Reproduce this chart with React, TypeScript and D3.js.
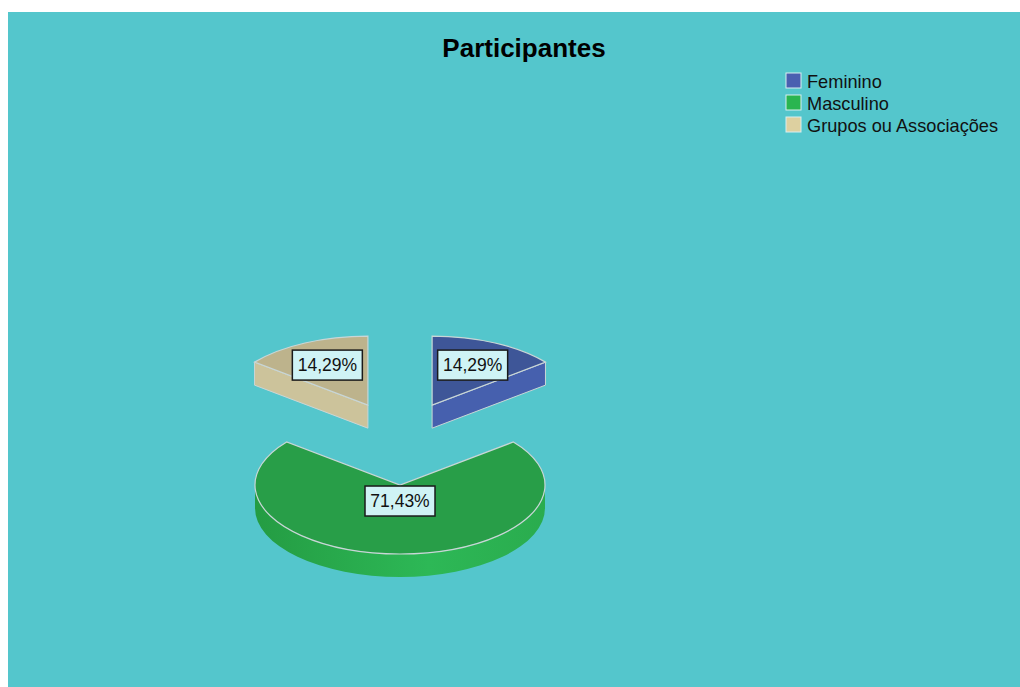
import React from "react";
import * as d3 from "d3";

const categories = ["Feminino", "Masculino", "Grupos ou Associações"];
const values = [1, 5, 1];
const topColors = ["#3e5698", "#289e48", "#bdb38c"];
const sideColors = ["#4660ae", "#2bb050", "#ccc39b"];
const legendColors = ["#4a5fb0", "#2ab550", "#ddd0a0"];

const W = 1020;
const H = 687;
// pie geometry (ellipse for the 3D look)
const cx0 = 400;
const cy0 = 443;
const rx = 145;
const ry = 69;
const depth = 23;
const explodeX = 74;
const explodeY = 42;

const ptLocale = d3.formatLocale({ decimal: ",", thousands: ".", grouping: [3], currency: ["R$", ""] });
const fmtPct = ptLocale.format(".2%");

export default function App() {
  const total = d3.sum(values);
  const arcs = d3.pie<number>().sort(null).value((d) => d)(values);
  const arcGen = d3.arc<any>().innerRadius(0).outerRadius(rx);

  const slices = arcs.map((a, i) => {
    const mid = (a.startAngle + a.endAngle) / 2;
    const cx = cx0 + explodeX * Math.sin(mid);
    const cy = cy0 - explodeY * Math.cos(mid);
    const pt = (ang: number, dy = 0): [number, number] => [cx + rx * Math.sin(ang), cy - ry * Math.cos(ang) + dy];

    // curved outer wall (front half only)
    let wall: string | null = null;
    const s = Math.max(a.startAngle, Math.PI / 2);
    const e = Math.min(a.endAngle, (3 * Math.PI) / 2);
    if (s < e) {
      const dS = (depth * rx) / ry;
      const p = d3.path();
      p.moveTo(rx * Math.sin(s), -rx * Math.cos(s));
      p.arc(0, 0, rx, s - Math.PI / 2, e - Math.PI / 2);
      p.lineTo(rx * Math.sin(e), -rx * Math.cos(e) + dS);
      p.arc(0, dS, rx, e - Math.PI / 2, s - Math.PI / 2, true);
      p.closePath();
      wall = p.toString();
    }

    // radial walls
    const radial: string[] = [];
    const face = (ang: number) => {
      const pts = [[cx, cy], pt(ang), pt(ang, depth), [cx, cy + depth]];
      return "M" + pts.map((q) => q.join(",")).join("L") + "Z";
    };
    if (Math.sin(a.startAngle) < -1e-6) radial.push(face(a.startAngle));
    if (Math.sin(a.endAngle) > 1e-6) radial.push(face(a.endAngle));

    // label sits on the centroid of the top face
    const alpha = (a.endAngle - a.startAngle) / 2;
    const k = (2 * Math.sin(alpha)) / (3 * alpha);
    const lx = cx + k * rx * Math.sin(mid);
    const ly = cy - k * ry * Math.cos(mid);

    return { i, a, cx, cy, wall, radial, lx, ly, label: fmtPct(a.value / total) };
  });

  const order = [...slices].sort((p, q) => p.cy - q.cy);

  return (
    <svg width={W} height={H} style={{ position: "absolute", left: 0, top: 0 }}
      fontFamily="'Liberation Sans', Arial, sans-serif">
      <defs>
        <linearGradient id="greenSide" x1="0" x2="1" y1="0" y2="0">
          <stop offset="0" stopColor="#249c43" />
          <stop offset="0.6" stopColor="#2db856" />
          <stop offset="1" stopColor="#2aac4e" />
        </linearGradient>
      </defs>
      <rect x={8} y={12} width={W - 8} height={H - 12} fill="#54c6cc" />
      <text x={524} y={57} textAnchor="middle" fontSize={26} fontWeight="bold" fill="#000">
        Participantes
      </text>

      {order.map((sl) => (
        <g key={sl.i}>
          {sl.radial.map((d, j) => (
            <path key={j} d={d} fill={sideColors[sl.i]} stroke="#c9d6d6" strokeWidth={1} strokeLinejoin="round" />
          ))}
          {sl.wall && (
            <path d={sl.wall} transform={`translate(${sl.cx},${sl.cy}) scale(1,${ry / rx})`}
              fill={sl.i === 1 ? "url(#greenSide)" : sideColors[sl.i]} stroke="none" />
          )}
          <path d={arcGen(sl.a) as string} transform={`translate(${sl.cx},${sl.cy}) scale(1,${ry / rx})`}
            fill={topColors[sl.i]} stroke="#c9d6d6" strokeWidth={1.2} vectorEffect="non-scaling-stroke" />
        </g>
      ))}

      {slices.map((sl) => (
        <g key={"l" + sl.i} transform={`translate(${sl.lx},${sl.ly})`}>
          <rect x={-35} y={-15} width={70} height={30} fill="#cff3f5" stroke="#1a1a1a" strokeWidth={1.5} />
          <text x={0} y={6} textAnchor="middle" fontSize={17.5} fill="#111">{sl.label}</text>
        </g>
      ))}

      <g transform="translate(786,0)">
        {categories.map((c, i) => (
          <g key={c} transform={`translate(0,${73 + i * 22})`}>
            <rect x={0} y={0} width={15} height={15} fill={legendColors[i]} stroke="#d8eef0" strokeWidth={1} />
            <text x={21} y={15} fontSize={18.2} fill="#111">{c}</text>
          </g>
        ))}
      </g>
    </svg>
  );
}
